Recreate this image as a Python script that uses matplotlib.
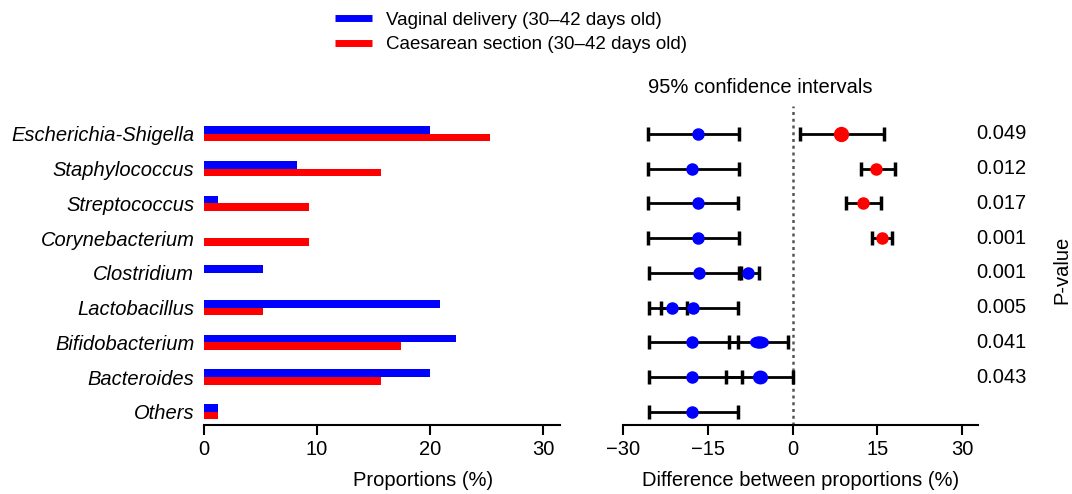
import numpy as np
import matplotlib
matplotlib.use('Agg')
import matplotlib.pyplot as plt
from matplotlib.lines import Line2D
from matplotlib.markers import MarkerStyle
from matplotlib.transforms import Affine2D, blended_transform_factory

plt.rcParams['font.family'] = ['Liberation Sans', 'DejaVu Sans']
plt.rcParams['font.size'] = 14.5

# data
taxa = ['Escherichia-Shigella', 'Staphylococcus', 'Streptococcus', 'Corynebacterium',
        'Clostridium', 'Lactobacillus', 'Bifidobacterium', 'Bacteroides', 'Others']
vaginal = [20.0, 8.2, 1.2, 0.0, 5.2, 20.9, 22.3, 20.0, 1.2]
caesarean = [25.3, 15.7, 9.3, 9.3, 0.0, 5.2, 17.4, 15.7, 1.2]

# reference interval drawn in every row
base_mean = [-16.7, -17.8, -16.7, -16.7, -16.6, -17.6, -17.8, -17.8, -17.8]
base_lo = [-25.6, -25.5, -25.5, -25.6, -25.4, -25.4, -25.4, -25.4, -25.4]
base_hi = [-9.5, -9.4, -9.6, -9.5, -9.4, -9.6, -9.6, -9.0, -9.6]

# differences between proportions
diff_row = [0, 1, 2, 3, 4, 5, 6, 7]
diff_mean = [8.5, 14.8, 12.4, 15.8, -7.8, -21.4, -6.0, -5.8]
diff_lo = [1.3, 12.1, 9.4, 14.1, -9.2, -23.3, -11.3, -11.7]
diff_hi = [16.2, 18.2, 15.7, 17.6, -6.0, -18.7, -0.8, 0.1]
diff_color = ['red', 'red', 'red', 'red', 'blue', 'blue', 'blue', 'blue']
diff_msize = [10, 8, 8, 8, 8, 8, 8, 9]
diff_stretch = [1, 1, 1, 1, 1, 1, 1.6, 1.1]

pvals = ['0.049', '0.012', '0.017', '0.001', '0.001', '0.005', '0.041', '0.043']

W, H = 1072, 494
fig = plt.figure(figsize=(W/100, H/100), dpi=100)

def rect(x0, x1, y0, y1):
    return [x0/W, 1-y1/H, (x1-x0)/W, (y1-y0)/H]

y = np.arange(len(taxa))
ylim = (8.38, -0.54)

# left: bars
ax1 = fig.add_axes(rect(204, 560, 115, 425))
bh = 0.22
ax1.barh(y - bh/2, vaginal, height=bh, color='#0000ff')
ax1.barh(y + bh/2, caesarean, height=bh, color='#ff0000')
ax1.set_ylim(ylim)
ax1.set_xlim(0, 31.5)
ax1.set_xticks([0, 10, 20, 30])
ax1.set_yticks(y)
ax1.set_yticklabels(taxa, style='italic', fontsize=14.5)
ax1.tick_params(axis='y', length=0, pad=7)
ax1.tick_params(axis='x', length=7, width=1.5, labelsize=14.5, pad=4)
for s in ['top', 'right', 'left']:
    ax1.spines[s].set_visible(False)
ax1.spines['bottom'].set_linewidth(1.5)
ax1.set_xlabel('Proportions (%)', fontsize=14.5)
ax1.xaxis.set_label_coords((423-204)/(560-204), -0.15)

# right: confidence intervals
ax2 = fig.add_axes(rect(623, 978, 115, 425))
ax2.axvline(0, color='#555555', linestyle=(0, (1.2, 1.5)), linewidth=1.8, ymax=1.03, clip_on=False)
ax2.errorbar(base_mean, y, xerr=[np.array(base_mean)-np.array(base_lo), np.array(base_hi)-np.array(base_mean)],
             fmt='none', ecolor='black', elinewidth=2, capsize=5, capthick=2.5)
ax2.plot(base_mean, y, 'o', color='#0000ff', markersize=8, zorder=4)
for i in range(len(diff_row)):
    m = diff_mean[i]
    ax2.errorbar([m], [diff_row[i]], xerr=[[m-diff_lo[i]], [diff_hi[i]-m]],
                 fmt='none', ecolor='black', elinewidth=2, capsize=5, capthick=2.5)
    mk = MarkerStyle('o', transform=Affine2D().scale(diff_stretch[i], 1))
    ax2.plot([m], [diff_row[i]], linestyle='none', marker=mk, color=diff_color[i],
             markersize=diff_msize[i], zorder=4)
ax2.set_ylim(ylim)
ax2.set_xlim(-30, 32.8)
ax2.set_xticks([-30, -15, 0, 15, 30])
ax2.set_xticklabels(['\u221230', '\u221215', '0', '15', '30'])
ax2.set_yticks([])
ax2.tick_params(axis='x', length=7, width=1.5, labelsize=14.5, pad=4)
for s in ['top', 'right', 'left']:
    ax2.spines[s].set_visible(False)
ax2.spines['bottom'].set_linewidth(1.5)
ax2.set_xlabel('Difference between proportions (%)', fontsize=14.5)
ax2.xaxis.set_label_coords(0.5, -0.15)
ax2.set_title('95% confidence intervals', fontsize=14.5, pad=16, x=(760-623)/355)

# p-values placed by pixel x and data y
tr = blended_transform_factory(fig.transFigure, ax2.transData)
for i, p in enumerate(pvals):
    ax2.text(1001/W, y[i], p, transform=tr, ha='center', va='center', fontsize=14.5, clip_on=False)
fig.text(1062/W, 1-270/H, 'P-value', rotation=90, ha='center', va='center', fontsize=14.5)

# legend
handles = [Line2D([], [], color='#0000ff', lw=5, solid_capstyle='butt'),
           Line2D([], [], color='#ff0000', lw=5, solid_capstyle='butt')]
fig.legend(handles, ['Vaginal delivery (30\u201342 days old)', 'Caesarean section (30\u201342 days old)'],
           loc='upper left', bbox_to_anchor=(318/W, 1+5/H), frameon=False, fontsize=13.5,
           handlelength=2.0, handletextpad=0.75, labelspacing=0.38)

fig.savefig('out.png', dpi=100)
